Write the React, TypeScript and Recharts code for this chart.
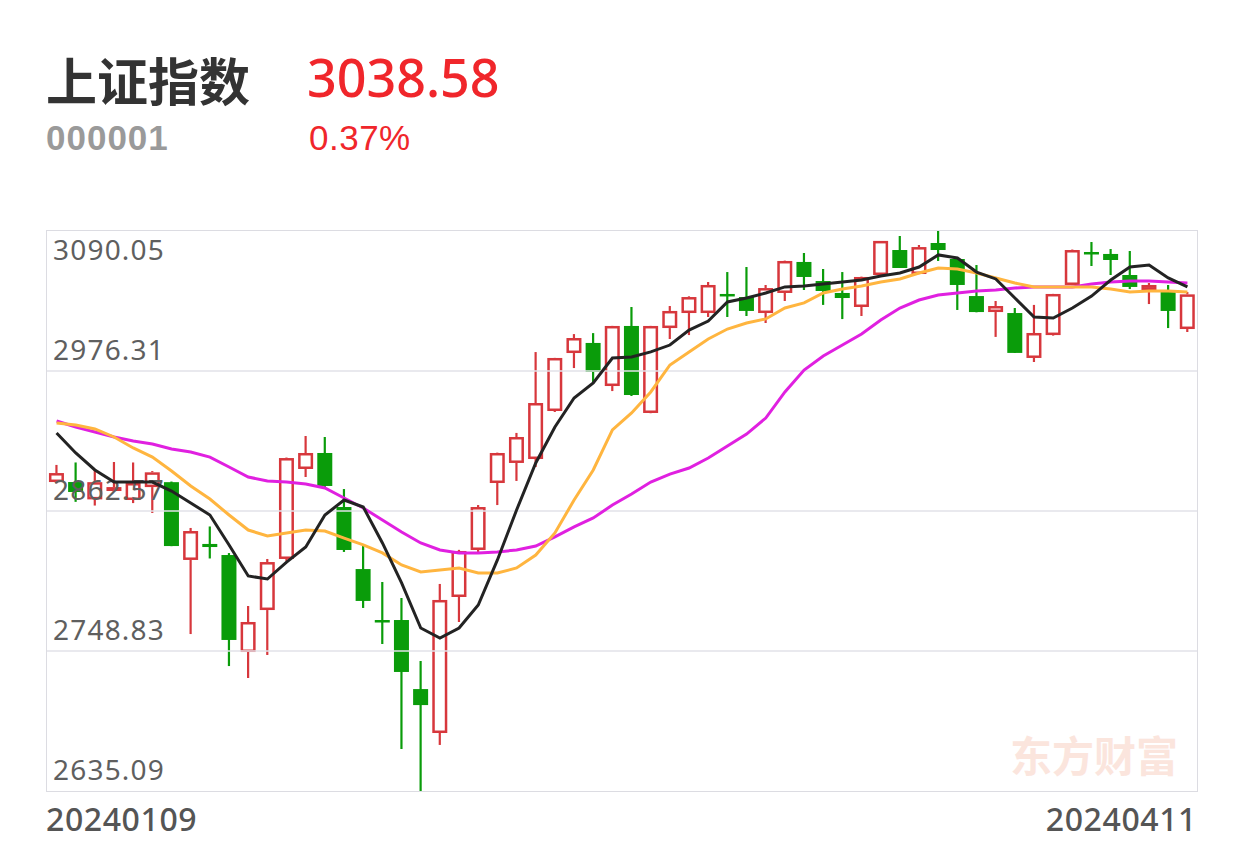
import React from "react";
import { Bar, ComposedChart, Line, ReferenceLine, XAxis, YAxis } from "recharts";

// trading days shown on the chart
const dates = [
  "20240109", "20240110", "20240111", "20240112", "20240115", "20240116", "20240117", "20240118",
  "20240119", "20240122", "20240123", "20240124", "20240125", "20240126", "20240129", "20240130",
  "20240131", "20240201", "20240202", "20240205", "20240206", "20240207", "20240208", "20240219",
  "20240220", "20240221", "20240222", "20240223", "20240226", "20240227", "20240228", "20240229",
  "20240301", "20240304", "20240305", "20240306", "20240307", "20240308", "20240311", "20240312",
  "20240313", "20240314", "20240315", "20240318", "20240319", "20240320", "20240321", "20240322",
  "20240325", "20240326", "20240327", "20240328", "20240329", "20240401", "20240402", "20240403",
  "20240408", "20240409", "20240410", "20240411",
];

const opens = [
  2886.1, 2886.1, 2872.0, 2878.8, 2871.5, 2882.0, 2886.0, 2822.8, 2835.8, 2826.8,
  2748.0, 2782.1, 2823.6, 2896.7, 2909.7, 2865.8, 2815.4, 2774.0, 2774.0, 2717.9,
  2682.2, 2792.7, 2830.9, 2885.3, 2901.6, 2904.8, 2943.8, 2990.9, 2999.1, 2964.1,
  3012.9, 2942.2, 3011.2, 3023.4, 3023.4, 3038.9, 3036.4, 3023.4, 3039.7, 3064.9,
  3049.4, 3039.7, 3028.3, 3054.3, 3074.6, 3055.1, 3080.3, 3067.3, 3037.2, 3024.2,
  3023.4, 2986.9, 3005.5, 3046.2, 3073.0, 3071.4, 3054.3, 3042.1, 3042.1, 3010.4,
];
const highs = [
  2900.0, 2902.0, 2896.0, 2902.4, 2902.0, 2895.0, 2886.5, 2848.8, 2850.0, 2828.4,
  2785.4, 2823.6, 2906.0, 2923.5, 2922.7, 2880.4, 2834.1, 2804.9, 2791.9, 2740.7,
  2803.3, 2831.0, 2867.4, 2910.0, 2926.0, 2991.7, 2987.0, 3006.3, 3007.1, 3013.0,
  3028.3, 3013.0, 3029.1, 3037.0, 3048.6, 3056.7, 3060.8, 3046.2, 3066.0, 3072.2,
  3059.2, 3056.7, 3053.0, 3082.0, 3086.0, 3078.7, 3090.05, 3068.0, 3062.4, 3033.2,
  3027.5, 3030.0, 3039.0, 3075.0, 3081.1, 3075.4, 3073.8, 3047.8, 3046.2, 3040.5,
];
const lows = [
  2885.0, 2870.0, 2867.0, 2878.0, 2869.0, 2861.0, 2834.0, 2762.6, 2824.0, 2736.6,
  2726.9, 2745.6, 2822.0, 2890.2, 2882.0, 2829.3, 2783.8, 2754.5, 2669.2, 2635.09,
  2672.5, 2772.4, 2829.3, 2867.4, 2887.0, 2898.3, 2943.0, 2978.7, 2966.5, 2960.0,
  2956.0, 2942.0, 3002.3, 3005.5, 3020.2, 3020.2, 3021.0, 3015.3, 3033.2, 3042.1,
  3030.0, 3018.5, 3021.0, 3054.0, 3060.0, 3055.0, 3065.7, 3025.9, 3024.0, 3004.0,
  2991.0, 2983.6, 3005.0, 3046.0, 3061.6, 3054.3, 3042.9, 3030.7, 3011.2, 3008.0,
];
const closes = [
  2893.4, 2878.0, 2886.0, 2882.0, 2885.3, 2894.0, 2834.1, 2846.3, 2833.3, 2757.8,
  2772.4, 2821.1, 2905.6, 2909.7, 2882.9, 2830.9, 2789.5, 2772.4, 2731.8, 2704.9,
  2790.3, 2830.1, 2865.8, 2909.7, 2922.7, 2950.3, 2986.9, 3003.1, 2975.5, 3012.9,
  2956.8, 3012.9, 3025.1, 3036.4, 3046.2, 3037.2, 3025.1, 3043.7, 3065.7, 3052.7,
  3041.3, 3035.6, 3052.7, 3082.0, 3060.0, 3077.0, 3074.6, 3046.2, 3024.2, 3029.1,
  2991.0, 3007.2, 3038.9, 3074.6, 3071.4, 3066.5, 3044.6, 3046.2, 3025.1, 3038.58,
];

// moving averages as drawn (black MA5, orange MA10, magenta MA20)
const ma5 = [
  2925.9, 2909.7, 2895.9, 2886.1, 2886.1, 2886.1, 2878.8, 2869.1, 2859.3, 2835.0,
  2809.8, 2807.3, 2821.1, 2833.3, 2859.3, 2871.5, 2865.8, 2836.6, 2804.1, 2767.5,
  2759.4, 2767.5, 2786.2, 2822.8, 2863.4, 2901.6, 2930.8, 2954.4, 2966.6, 2986.9,
  2987.7, 2991.8, 2997.4, 3009.6, 3016.9, 3032.4, 3035.6, 3039.7, 3044.6, 3045.4,
  3047.0, 3048.6, 3050.2, 3053.5, 3055.9, 3060.8, 3070.6, 3068.1, 3056.7, 3051.1,
  3035.6, 3020.2, 3019.4, 3027.5, 3037.2, 3050.2, 3060.8, 3062.4, 3051.9, 3044.6,
];
const ma10 = [
  2934.1, 2932.4, 2929.2, 2922.7, 2913.8, 2906.4, 2895.1, 2882.9, 2872.3, 2859.3,
  2847.1, 2842.3, 2844.7, 2847.1, 2846.3, 2840.6, 2835.0, 2828.5, 2818.7, 2813.0,
  2814.6, 2816.3, 2812.2, 2812.2, 2816.3, 2826.8, 2844.7, 2871.5, 2895.9, 2928.4,
  2942.2, 2959.3, 2981.2, 2991.8, 3002.3, 3010.4, 3015.3, 3018.6, 3027.5, 3031.6,
  3039.7, 3042.9, 3045.4, 3048.6, 3051.1, 3055.9, 3060.0, 3059.2, 3055.9, 3051.9,
  3047.8, 3044.6, 3044.6, 3044.6, 3044.6, 3042.9, 3040.5, 3041.3, 3041.3, 3040.5,
];
const ma20 = [
  2935.7, 2930.8, 2926.8, 2922.7, 2919.4, 2917.0, 2912.9, 2910.5, 2906.4, 2898.3,
  2890.2, 2886.9, 2886.1, 2884.5, 2881.3, 2873.1, 2865.0, 2855.3, 2845.5, 2836.6,
  2830.9, 2828.5, 2828.5, 2829.3, 2830.9, 2834.1, 2841.5, 2849.6, 2856.9, 2867.4,
  2876.4, 2886.1, 2892.6, 2897.5, 2905.6, 2915.4, 2925.1, 2938.1, 2959.3, 2977.1,
  2988.5, 2997.4, 3006.4, 3017.7, 3027.5, 3034.0, 3038.1, 3039.7, 3041.3, 3042.1,
  3043.7, 3044.6, 3044.6, 3044.6, 3047.0, 3048.6, 3049.4, 3049.4, 3048.6, 3047.8,
];

const yTicks = [3090.05, 2976.31, 2862.57, 2748.83, 2635.09];

const RED = "#d7373c";
const GREEN = "#0a9c0a";
const NUM_FONT = '"Noto Sans", "Liberation Sans", sans-serif';
const SUB_FONT = '"Liberation Sans", Arial, sans-serif';

const data = dates.map((date, i) => ({
  date,
  open: opens[i],
  high: highs[i],
  low: lows[i],
  close: closes[i],
  range: [lows[i], highs[i]],
  ma5: ma5[i],
  ma10: ma10[i],
  ma20: ma20[i],
}));

function Candle(props: any) {
  const { x, y, width, height, payload } = props;
  if (!payload || height == null) return null;
  const { open, close, high, low } = payload;
  const up = close >= open;
  const color = up ? RED : GREEN;
  const span = high - low || 1;
  const toY = (v: number) => y + ((high - v) / span) * height;
  const cx = x + width / 2;
  const top = toY(Math.max(open, close));
  const bottom = toY(Math.min(open, close));
  const bodyW = 15;
  const bx = cx - bodyW / 2;
  const bodyH = Math.max(bottom - top, 2.5);

  if (up) {
    return (
      <g>
        <line x1={cx} x2={cx} y1={y} y2={top} stroke={color} strokeWidth={2.2} />
        <line x1={cx} x2={cx} y1={top + bodyH} y2={y + height} stroke={color} strokeWidth={2.2} />
        <rect x={bx + 1.25} y={top + 1.25} width={bodyW - 2.5} height={Math.max(bodyH - 2.5, 0.5)} fill="#fff" stroke={color} strokeWidth={2.5} />
      </g>
    );
  }
  return (
    <g>
      <line x1={cx} x2={cx} y1={y} y2={y + height} stroke={color} strokeWidth={2.2} />
      <rect x={bx} y={top} width={bodyW} height={bodyH} fill={color} />
    </g>
  );
}

const axisLabel = (text: string, below: boolean) => (props: any) => {
  const vb = props.viewBox || {};
  return (
    <text
      x={(vb.x || 0) + 6}
      y={below ? vb.y + 29 : vb.y - 11}
      fill="#5f5f5f"
      fontSize={28}
      letterSpacing={1.2}
      fontFamily={NUM_FONT}
    >
      {text}
    </text>
  );
};

export default function App() {
  const plotLeft = 47;
  const plotTop = 231;
  const plotW = 1150;
  const plotH = 560;

  return (
    <div style={{ position: "absolute", left: 0, top: 0, width: 1242, height: 843, background: "#fff", overflow: "hidden" }}>
      <div style={{ position: "absolute", left: 46, top: 51, fontSize: 51, fontWeight: 700, color: "#333", fontFamily: '"Noto Sans CJK SC", sans-serif', lineHeight: "56px" }}>
        上证指数
      </div>
      <div style={{ position: "absolute", left: 307, top: 49, fontSize: 52, fontWeight: 500, color: "#f0262b", fontFamily: NUM_FONT, lineHeight: "56px" }}>
        {closes[closes.length - 1].toFixed(2)}
      </div>
      <div style={{ position: "absolute", left: 46, top: 118, fontSize: 35, fontWeight: 700, color: "#9a9a9a", fontFamily: SUB_FONT, lineHeight: "40px", letterSpacing: 1 }}>
        000001
      </div>
      <div style={{ position: "absolute", left: 309, top: 118, fontSize: 35, color: "#f0262b", fontFamily: SUB_FONT, lineHeight: "40px", letterSpacing: 0.5 }}>
        0.37%
      </div>

      <div
        style={{
          position: "absolute",
          left: plotLeft - 1,
          top: plotTop - 1,
          width: plotW,
          height: plotH,
          border: "1.5px solid #dcdce2",
        }}
      />
      <div style={{ position: "absolute", left: 1010, top: 724, fontSize: 42, fontWeight: 700, color: "#fbe5dd", fontFamily: '"Noto Sans CJK SC", sans-serif', lineHeight: "60px" }}>
        东方财富
      </div>

      <div style={{ position: "absolute", left: plotLeft, top: plotTop }}>
        <ComposedChart width={plotW} height={plotH} data={data} margin={{ top: 0, right: 0, bottom: 0, left: 0 }} barCategoryGap="18%">
          <XAxis dataKey="date" hide />
          <YAxis hide domain={[2635.09, 3090.05]} allowDataOverflow />
          {yTicks.map((v, i) => (
            <ReferenceLine
              key={v}
              y={v}
              stroke={i === 0 || i === yTicks.length - 1 ? "none" : "#e2e2e8"}
              strokeWidth={1.5}
              label={axisLabel(v.toFixed(2), i === 0)}
            />
          ))}
          <Bar dataKey="range" shape={<Candle />} isAnimationActive={false} />
          <Line type="linear" dataKey="ma20" stroke="#e020e0" strokeWidth={3} dot={false} isAnimationActive={false} />
          <Line type="linear" dataKey="ma10" stroke="#ffb53f" strokeWidth={3} dot={false} isAnimationActive={false} />
          <Line type="linear" dataKey="ma5" stroke="#232323" strokeWidth={3} dot={false} isAnimationActive={false} />
        </ComposedChart>
      </div>

      <div style={{ position: "absolute", left: plotLeft - 1, top: 797, width: plotW + 1, display: "flex", justifyContent: "space-between", fontSize: 32, fontWeight: 500, color: "#555", fontFamily: NUM_FONT, lineHeight: "44px", letterSpacing: 0.6 }}>
        <span>{dates[0]}</span>
        <span>{dates[dates.length - 1]}</span>
      </div>
    </div>
  );
}
